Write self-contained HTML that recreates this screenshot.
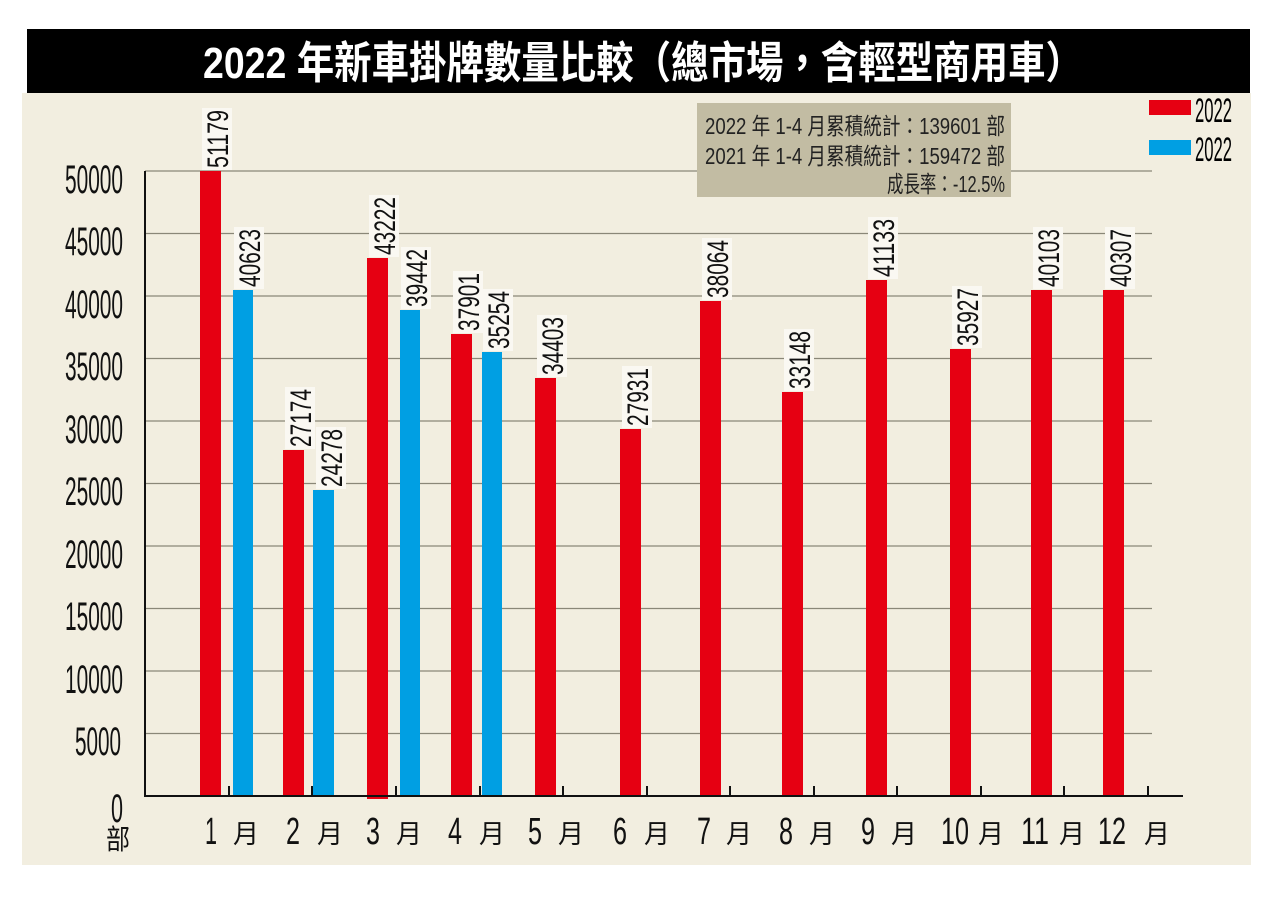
<!DOCTYPE html>
<html><head><meta charset="utf-8"><style>
html,body{margin:0;padding:0;background:#fff;}
svg{display:block;}
text{font-family:"Liberation Sans","Noto Sans CJK TC",sans-serif;}
</style></head><body>
<svg width="1286" height="915" viewBox="0 0 1286 915" xmlns="http://www.w3.org/2000/svg">
<rect x="22" y="93" width="1229" height="772" fill="#f2eee0"/>
<rect x="27" y="29" width="1223" height="64" fill="#000"/>
<text x="643" y="78" text-anchor="middle" fill="#fff" font-size="44" font-weight="bold" textLength="880" lengthAdjust="spacingAndGlyphs">2022 年新車掛牌數量比較（總市場，含輕型商用車）</text>
<g stroke="#8a8778" stroke-width="1.2">
<line x1="145" y1="171" x2="1152" y2="171"/><line x1="145" y1="233.5" x2="1152" y2="233.5"/>
<line x1="145" y1="296" x2="1152" y2="296"/><line x1="145" y1="358.5" x2="1152" y2="358.5"/>
<line x1="145" y1="421" x2="1152" y2="421"/><line x1="145" y1="483.5" x2="1152" y2="483.5"/>
<line x1="145" y1="546" x2="1152" y2="546"/><line x1="145" y1="608.5" x2="1152" y2="608.5"/>
<line x1="145" y1="671" x2="1152" y2="671"/><line x1="145" y1="733.5" x2="1152" y2="733.5"/>
</g>
<rect x="697" y="103" width="314" height="94" fill="#c2bca3"/>
<g font-size="23" fill="#222" text-anchor="end">
<text x="1005" y="134" textLength="300" lengthAdjust="spacingAndGlyphs">2022 年 1-4 月累積統計：139601 部</text>
<text x="1005" y="164" textLength="300" lengthAdjust="spacingAndGlyphs">2021 年 1-4 月累積統計：159472 部</text>
<text x="1005" y="192" textLength="118" lengthAdjust="spacingAndGlyphs">成長率：-12.5%</text>
</g>
<rect x="1149" y="100" width="42" height="15" fill="#e60012"/>
<rect x="1149" y="140" width="42" height="15" fill="#009fe3"/>
<text x="1195" y="122" font-size="34" textLength="37" lengthAdjust="spacingAndGlyphs">2022</text>
<text x="1195" y="161" font-size="34" textLength="37" lengthAdjust="spacingAndGlyphs">2022</text>
<g fill="#e60012">
<rect x="200" y="171" width="21" height="625"/>
<rect x="283" y="450" width="21" height="346"/>
<rect x="367" y="258" width="21" height="541"/>
<rect x="451" y="334" width="21" height="462"/>
<rect x="535" y="378" width="21" height="418"/>
<rect x="620" y="429" width="21" height="367"/>
<rect x="700" y="301" width="21" height="495"/>
<rect x="782" y="392" width="21" height="404"/>
<rect x="866" y="280" width="21" height="516"/>
<rect x="950" y="349" width="21" height="447"/>
<rect x="1031" y="290" width="21" height="506"/>
<rect x="1103" y="290" width="21" height="506"/>
</g>
<g fill="#009fe3">
<rect x="233" y="290" width="20" height="506"/>
<rect x="313" y="490" width="21" height="306"/>
<rect x="400" y="310" width="20" height="486"/>
<rect x="482" y="352" width="20" height="444"/>
</g>
<line x1="145" y1="171" x2="145" y2="797" stroke="#111" stroke-width="2"/>
<line x1="144" y1="796" x2="1183" y2="796" stroke="#111" stroke-width="2"/>
<g stroke="#111" stroke-width="2">
<line x1="229" y1="786" x2="229" y2="796"/><line x1="312" y1="786" x2="312" y2="796"/>
<line x1="396" y1="786" x2="396" y2="796"/><line x1="480" y1="786" x2="480" y2="796"/>
<line x1="563" y1="786" x2="563" y2="796"/><line x1="647" y1="786" x2="647" y2="796"/>
<line x1="730" y1="786" x2="730" y2="796"/><line x1="814" y1="786" x2="814" y2="796"/>
<line x1="897" y1="786" x2="897" y2="796"/><line x1="981" y1="786" x2="981" y2="796"/>
<line x1="1064" y1="786" x2="1064" y2="796"/><line x1="1148" y1="786" x2="1148" y2="796"/>
</g>
<g font-size="30" fill="#111">
<g transform="translate(224,170) rotate(-90)"><rect x="0" y="-22" width="62" height="30" fill="#faf8f2"/><text x="2" y="4" textLength="58" lengthAdjust="spacingAndGlyphs">51179</text></g>
<g transform="translate(256,289) rotate(-90)"><rect x="0" y="-22" width="62" height="30" fill="#faf8f2"/><text x="2" y="4" textLength="58" lengthAdjust="spacingAndGlyphs">40623</text></g>
<g transform="translate(307,449) rotate(-90)"><rect x="0" y="-22" width="62" height="30" fill="#faf8f2"/><text x="2" y="4" textLength="58" lengthAdjust="spacingAndGlyphs">27174</text></g>
<g transform="translate(338,489) rotate(-90)"><rect x="0" y="-22" width="62" height="30" fill="#faf8f2"/><text x="2" y="4" textLength="58" lengthAdjust="spacingAndGlyphs">24278</text></g>
<g transform="translate(391,257) rotate(-90)"><rect x="0" y="-22" width="62" height="30" fill="#faf8f2"/><text x="2" y="4" textLength="58" lengthAdjust="spacingAndGlyphs">43222</text></g>
<g transform="translate(423,309) rotate(-90)"><rect x="0" y="-22" width="62" height="30" fill="#faf8f2"/><text x="2" y="4" textLength="58" lengthAdjust="spacingAndGlyphs">39442</text></g>
<g transform="translate(475,333) rotate(-90)"><rect x="0" y="-22" width="62" height="30" fill="#faf8f2"/><text x="2" y="4" textLength="58" lengthAdjust="spacingAndGlyphs">37901</text></g>
<g transform="translate(505,351) rotate(-90)"><rect x="0" y="-22" width="62" height="30" fill="#faf8f2"/><text x="2" y="4" textLength="58" lengthAdjust="spacingAndGlyphs">35254</text></g>
<g transform="translate(559,377) rotate(-90)"><rect x="0" y="-22" width="62" height="30" fill="#faf8f2"/><text x="2" y="4" textLength="58" lengthAdjust="spacingAndGlyphs">34403</text></g>
<g transform="translate(644,428) rotate(-90)"><rect x="0" y="-22" width="62" height="30" fill="#faf8f2"/><text x="2" y="4" textLength="58" lengthAdjust="spacingAndGlyphs">27931</text></g>
<g transform="translate(724,300) rotate(-90)"><rect x="0" y="-22" width="62" height="30" fill="#faf8f2"/><text x="2" y="4" textLength="58" lengthAdjust="spacingAndGlyphs">38064</text></g>
<g transform="translate(806,391) rotate(-90)"><rect x="0" y="-22" width="62" height="30" fill="#faf8f2"/><text x="2" y="4" textLength="58" lengthAdjust="spacingAndGlyphs">33148</text></g>
<g transform="translate(890,279) rotate(-90)"><rect x="0" y="-22" width="62" height="30" fill="#faf8f2"/><text x="2" y="4" textLength="58" lengthAdjust="spacingAndGlyphs">41133</text></g>
<g transform="translate(974,348) rotate(-90)"><rect x="0" y="-22" width="62" height="30" fill="#faf8f2"/><text x="2" y="4" textLength="58" lengthAdjust="spacingAndGlyphs">35927</text></g>
<g transform="translate(1055,289) rotate(-90)"><rect x="0" y="-22" width="62" height="30" fill="#faf8f2"/><text x="2" y="4" textLength="58" lengthAdjust="spacingAndGlyphs">40103</text></g>
<g transform="translate(1127,289) rotate(-90)"><rect x="0" y="-22" width="62" height="30" fill="#faf8f2"/><text x="2" y="4" textLength="58" lengthAdjust="spacingAndGlyphs">40307</text></g>
</g>
<g font-size="40" fill="#111" text-anchor="end">
<text x="123" y="193" textLength="58" lengthAdjust="spacingAndGlyphs">50000</text>
<text x="123" y="255" textLength="58" lengthAdjust="spacingAndGlyphs">45000</text>
<text x="123" y="318" textLength="58" lengthAdjust="spacingAndGlyphs">40000</text>
<text x="123" y="380" textLength="58" lengthAdjust="spacingAndGlyphs">35000</text>
<text x="123" y="443" textLength="58" lengthAdjust="spacingAndGlyphs">30000</text>
<text x="123" y="505" textLength="58" lengthAdjust="spacingAndGlyphs">25000</text>
<text x="123" y="568" textLength="58" lengthAdjust="spacingAndGlyphs">20000</text>
<text x="123" y="630" textLength="58" lengthAdjust="spacingAndGlyphs">15000</text>
<text x="123" y="693" textLength="58" lengthAdjust="spacingAndGlyphs">10000</text>
<text x="121" y="755" textLength="46" lengthAdjust="spacingAndGlyphs">5000</text>
<text x="123" y="822" textLength="12" lengthAdjust="spacingAndGlyphs">0</text>
</g>
<text x="106" y="849" font-size="28" fill="#111" textLength="24" lengthAdjust="spacingAndGlyphs">部</text>
<g font-size="38" fill="#111">
<text x="205" y="844" textLength="12" lengthAdjust="spacingAndGlyphs">1</text><text x="233" y="843" font-size="26">月</text>
<text x="286" y="844" textLength="14" lengthAdjust="spacingAndGlyphs">2</text><text x="317" y="843" font-size="26">月</text>
<text x="366" y="844" textLength="14" lengthAdjust="spacingAndGlyphs">3</text><text x="396" y="843" font-size="26">月</text>
<text x="448" y="844" textLength="14" lengthAdjust="spacingAndGlyphs">4</text><text x="479" y="843" font-size="26">月</text>
<text x="528" y="844" textLength="14" lengthAdjust="spacingAndGlyphs">5</text><text x="558" y="843" font-size="26">月</text>
<text x="613" y="844" textLength="14" lengthAdjust="spacingAndGlyphs">6</text><text x="644" y="843" font-size="26">月</text>
<text x="697" y="844" textLength="14" lengthAdjust="spacingAndGlyphs">7</text><text x="726" y="843" font-size="26">月</text>
<text x="779" y="844" textLength="14" lengthAdjust="spacingAndGlyphs">8</text><text x="809" y="843" font-size="26">月</text>
<text x="861" y="844" textLength="14" lengthAdjust="spacingAndGlyphs">9</text><text x="891" y="843" font-size="26">月</text>
<text x="941" y="844" textLength="28" lengthAdjust="spacingAndGlyphs">10</text><text x="978" y="843" font-size="26">月</text>
<text x="1021" y="844" textLength="28" lengthAdjust="spacingAndGlyphs">11</text><text x="1059" y="843" font-size="26">月</text>
<text x="1098" y="844" textLength="28" lengthAdjust="spacingAndGlyphs">12</text><text x="1144" y="843" font-size="26">月</text>
</g>
</svg>
</body></html>
